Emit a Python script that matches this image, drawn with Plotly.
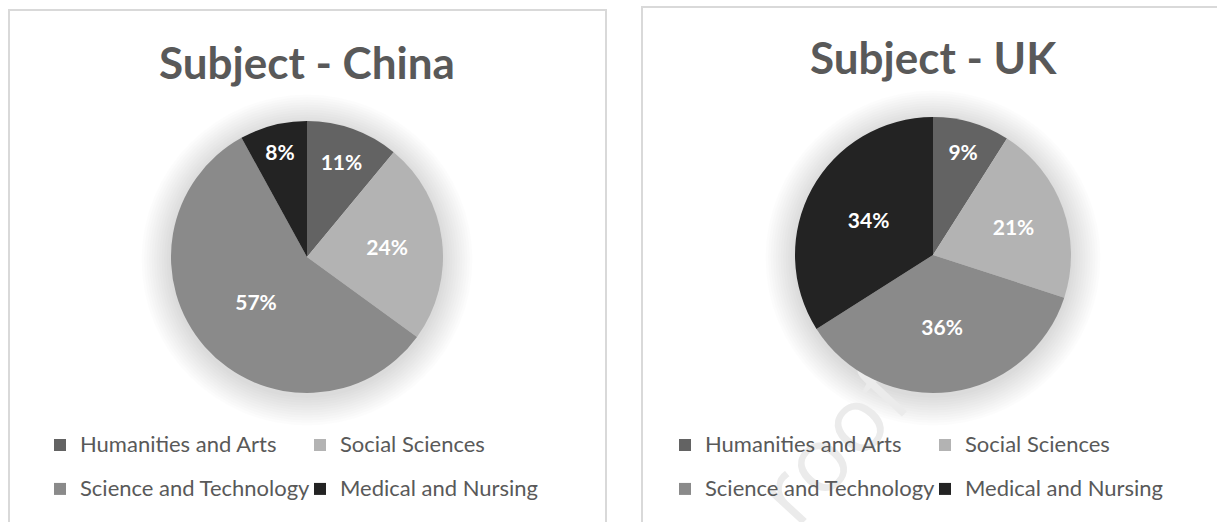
import plotly.graph_objects as go

# ---------------- data ----------------
categories = ["Humanities and Arts", "Social Sciences", "Science and Technology", "Medical and Nursing"]
china_values = [11, 24, 57, 8]
uk_values = [9, 21, 36, 34]
titles = ["Subject - China", "Subject - UK"]
slice_colors = ["#636363", "#b3b3b3", "#8a8a8a", "#232323"]
watermark = "roof"

# ---------------- geometry helpers ----------------
W, H = 1217, 522
ML, MR = 45, 50
GW = W - ML - MR


def px(x):
    return (x - ML) / GW


def py(y):
    return 1 - y / H


FONT = "Lato"
TXT = "#595959"

# legend labels: smaller visible text inside a taller legend row
legend_labels = ['<span style="font-size:22px;baseline-shift:5px">%s</span>' % c for c in categories]

fig = go.Figure()

pies = [
    dict(values=china_values, cx=307, cy=257, r=136, legend="legend", group="china"),
    dict(values=uk_values, cx=933, cy=255, r=138, legend="legend2", group="uk"),
]

for p in pies:
    fig.add_trace(go.Pie(
        labels=legend_labels,
        values=p["values"],
        sort=False,
        direction="clockwise",
        rotation=0,
        marker=dict(colors=slice_colors, line=dict(width=0)),
        textinfo="percent",
        textposition="inside",
        insidetextorientation="horizontal",
        textfont=dict(family=FONT, size=21, color="white", weight="bold"),
        domain=dict(x=[px(p["cx"] - p["r"]), px(p["cx"] + p["r"])],
                    y=[py(p["cy"] + p["r"]), py(p["cy"] - p["r"])]),
        legend=p["legend"],
        legendgroup=p["group"],
        showlegend=True,
        hoverinfo="percent",
    ))

shapes = []
# panel borders
shapes.append(dict(type="rect", xref="paper", yref="paper", layer="below",
                   x0=px(9), x1=px(606), y0=py(540), y1=py(10),
                   line=dict(color="#d9d9d9", width=2), fillcolor="rgba(0,0,0,0)"))
shapes.append(dict(type="rect", xref="paper", yref="paper", layer="below",
                   x0=px(642), x1=px(1240), y0=py(540), y1=py(7),
                   line=dict(color="#d9d9d9", width=2), fillcolor="rgba(0,0,0,0)"))
# soft shadow halo behind each pie
for p in pies:
    for k in range(12):
        rr = p["r"] + 2 + k * 2.5
        shapes.append(dict(type="circle", xref="paper", yref="paper", layer="below",
                           xsizemode="pixel", ysizemode="pixel",
                           xanchor=px(p["cx"]), yanchor=py(p["cy"] + 3),
                           x0=-rr, x1=rr, y0=-rr, y1=rr,
                           line=dict(width=0), fillcolor="rgba(0,0,0,0.012)"))
# faint watermark fragment (behind the pies)
shapes.append(dict(type="line", xref="paper", yref="paper", layer="below",
                   x0=px(745), y0=py(543), x1=px(925), y1=py(349),
                   line=dict(width=0, color="rgba(0,0,0,0)"),
                   label=dict(text=watermark, textposition="middle", yanchor="middle",
                              font=dict(family="Open Sans", size=90, color="#ebebeb"))))

annotations = [
    dict(text=titles[0], x=px(307), y=py(62), xref="paper", yref="paper",
         xanchor="center", yanchor="middle", showarrow=False,
         font=dict(family=FONT, size=44, color=TXT, weight="bold")),
    dict(text=titles[1], x=px(933), y=py(57), xref="paper", yref="paper",
         xanchor="center", yanchor="middle", showarrow=False,
         font=dict(family=FONT, size=44, color=TXT, weight="bold")),
]

legend_common = dict(orientation="h", entrywidth=215, entrywidthmode="pixels",
                     font=dict(family=FONT, size=31.5, color=TXT),
                     bgcolor="rgba(0,0,0,0)", borderwidth=0,
                     yanchor="top", y=py(418), traceorder="normal")

fig.update_layout(
    width=W, height=H,
    margin=dict(l=ML, r=MR, t=0, b=0, autoexpand=False),
    paper_bgcolor="white", plot_bgcolor="white",
    shapes=shapes,
    annotations=annotations,
    legend=dict(x=px(40), xanchor="left", **legend_common),
    legend2=dict(x=px(1185), xanchor="right", **legend_common),
)

fig.write_html("out.html", config={"displayModeBar": False},
               post_script="document.body.style.margin='0px';")
